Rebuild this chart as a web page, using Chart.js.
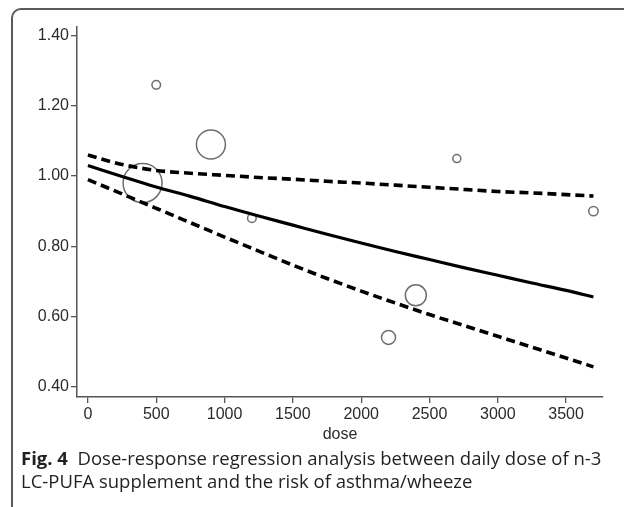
<!DOCTYPE html>
<html lang="en">
<head>
<meta charset="UTF-8">
<script src="https://cdn.jsdelivr.net/npm/chart.js"></script>
<title>Fig. 4</title>
<style>
    body {
        margin: 0;
        width: 624px;
        height: 507px;
        overflow: hidden;
        background: #fff;
        position: relative;
        font-family: "Liberation Sans", Arial, sans-serif;
    }
    .frame {
        position: absolute;
        left: 11px;
        top: 8px;
        width: 640px;
        height: 508px;
        border: 2px solid #5a5a5a;
        border-radius: 10px;
        box-sizing: border-box;
    }
    .chart-box {
        position: absolute;
        left: 0;
        top: 0;
        width: 624px;
        height: 507px;
    }
    .caption {
        position: absolute;
        left: 21px;
        top: 446px;
        font-family: "Open Sans", "Noto Sans", sans-serif;
        font-size: 18.5px;
        line-height: 23px;
        color: #231f20;
        white-space: nowrap;
    }
    .caption b { font-weight: 700; }
</style>
</head>
<body>
<div class="frame"></div>
<div class="chart-box">
    <canvas id="dose-chart" width="624" height="507"></canvas>
</div>
<div class="caption">
    <b>Fig. 4</b>&nbsp; Dose-response regression analysis between daily dose of n-3<br>
    LC-PUFA supplement and the risk of asthma/wheeze
</div>

<script>
    // study points (dose, relative risk) and circle size
    // (first and last entries are small circles: chart.js pads the layout by their size)
    const studyDose = [500, 400, 900, 1200, 2200, 2400, 2700, 3700];
    const studyRR = [1.26, 0.98, 1.09, 0.88, 0.54, 0.66, 1.05, 0.90];
    const studyWeight = [4.3, 19.5, 14.5, 4.3, 7, 10.5, 4, 4.7];

    // fitted curve and 95% CI
    const curveDose = [0, 250, 500, 750, 1000, 1250, 1500, 1750, 2000, 2250, 2500, 2750, 3000, 3250, 3500, 3700];
    const fitRR = [1.030, 0.999, 0.969, 0.942, 0.913, 0.886, 0.860, 0.834, 0.809, 0.785, 0.762, 0.739, 0.717, 0.695, 0.674, 0.655];
    const upperRR = [1.060, 1.033, 1.016, 1.008, 1.002, 0.996, 0.991, 0.985, 0.980, 0.974, 0.968, 0.962, 0.956, 0.952, 0.947, 0.943];
    const lowerRR = [0.990, 0.949, 0.908, 0.867, 0.826, 0.786, 0.746, 0.708, 0.672, 0.638, 0.605, 0.574, 0.543, 0.512, 0.481, 0.456];

    const xTicks = [0, 500, 1000, 1500, 2000, 2500, 3000, 3500];
    const yTicks = [0.40, 0.60, 0.80, 1.00, 1.20, 1.40];

    const pts = (xs, ys) => xs.map((x, i) => ({x: x, y: ys[i]}));
    const axisColor = '#555';
    const textColor = '#2b2b2b';
    const tickFont = {family: 'Liberation Sans', size: 16};

    const ctx = document.getElementById('dose-chart');
    new Chart(ctx, {
        type: 'scatter',
        data: {
            datasets: [
                {
                    type: 'line',
                    data: pts(curveDose, fitRR),
                    borderColor: '#000',
                    borderWidth: 3.2,
                    pointRadius: 0,
                    cubicInterpolationMode: 'monotone',
                    fill: false
                },
                {
                    type: 'line',
                    data: pts(curveDose, upperRR),
                    borderColor: '#000',
                    borderWidth: 3.6,
                    borderDash: [9, 5],
                    pointRadius: 0,
                    cubicInterpolationMode: 'monotone',
                    fill: false
                },
                {
                    type: 'line',
                    data: pts(curveDose, lowerRR),
                    borderColor: '#000',
                    borderWidth: 3.6,
                    borderDash: [9, 5],
                    pointRadius: 0,
                    cubicInterpolationMode: 'monotone',
                    fill: false
                },
                {
                    data: pts(studyDose, studyRR),
                    pointRadius: studyWeight,
                    backgroundColor: 'rgba(0,0,0,0)',
                    borderColor: '#6e6e6e',
                    borderWidth: 1.5
                }
            ]
        },
        options: {
            responsive: false,
            animation: false,
            events: [],
            layout: {
                padding: {left: 0, top: 27, right: 16, bottom: 63}
            },
            plugins: {
                legend: {display: false},
                tooltip: {enabled: false}
            },
            scales: {
                x: {
                    type: 'linear',
                    min: -80,
                    max: 3770,
                    afterBuildTicks: (scale) => {
                        scale.ticks = xTicks.map(v => ({value: v}));
                    },
                    afterFit: (scale) => {
                        scale.height = 47;
                        scale.paddingLeft = 0;
                        scale.paddingRight = 0;
                    },
                    ticks: {
                        color: textColor,
                        font: tickFont,
                        padding: 2,
                        maxRotation: 0,
                        callback: (v) => String(v)
                    },
                    grid: {
                        drawOnChartArea: false,
                        drawTicks: true,
                        tickLength: 6,
                        color: axisColor,
                        lineWidth: 1.3
                    },
                    border: {display: true, color: axisColor, width: 1.5},
                    title: {
                        display: true,
                        text: 'dose',
                        color: textColor,
                        font: tickFont,
                        padding: 0
                    }
                },
                y: {
                    type: 'linear',
                    min: 0.37,
                    max: 1.425,
                    afterBuildTicks: (scale) => {
                        scale.ticks = yTicks.map(v => ({value: v}));
                    },
                    afterFit: (scale) => {
                        scale.width = 77;
                        scale.paddingTop = 0;
                        scale.paddingBottom = 0;
                    },
                    ticks: {
                        color: textColor,
                        font: tickFont,
                        padding: 2,
                        callback: (v) => v.toFixed(2)
                    },
                    grid: {
                        drawOnChartArea: false,
                        drawTicks: true,
                        tickLength: 6,
                        color: axisColor,
                        lineWidth: 1.3
                    },
                    border: {display: true, color: axisColor, width: 1.5}
                }
            }
        }
    });
</script>
</body>
</html>
